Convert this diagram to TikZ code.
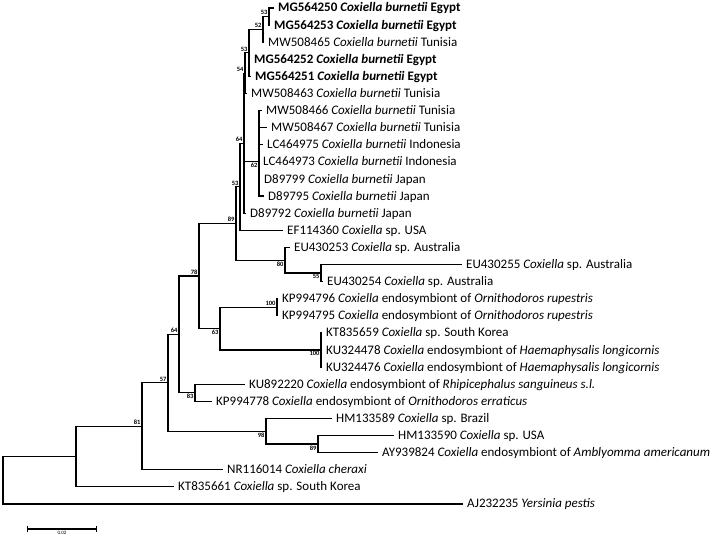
\documentclass[tikz,border=0pt]{standalone}
\usepackage{fontspec}
\setmainfont{Carlito}
\usetikzlibrary{arrows.meta}
\begin{document}
\begin{tikzpicture}[x=1pt,y=-1pt,
 branch/.style={line width=1.2pt},
 leaf/.style={anchor=west,inner xsep=4pt,inner ysep=0pt,text height=8pt,text depth=0pt,font=\fontsize{13}{15}\selectfont},
 bup/.style={above left,inner sep=1pt,font=\fontsize{6.5}{7}\selectfont\bfseries},
 bdn/.style={below left,inner sep=1pt,font=\fontsize{6.5}{7}\selectfont\bfseries}
]
 \useasboundingbox (0,0) rectangle (725,540);
 \coordinate (root) at (3,480.2);
 \coordinate (nX) at (76,456.5);
 \coordinate (n81) at (142,426.25);
 \coordinate (n57) at (168,382.8);
 \coordinate (n64) at (179,334.4);
 \coordinate (n98) at (266,431.2);
 \coordinate (n89b) at (318,444.05);
 \coordinate (n83) at (195,392.75);
 \coordinate (n78) at (199,276);
 \coordinate (n63) at (220,328.6);
 \coordinate (nK) at (277,307.25);
 \coordinate (nT) at (321,350);
 \coordinate (n89) at (236,223.5);
 \coordinate (n80) at (285,260.2);
 \coordinate (n55) at (321,273.05);
 \coordinate (nG) at (240,186.75);
 \coordinate (nE) at (244,143.2);
 \coordinate (nF) at (259,161.9);
 \coordinate (nD) at (245,73.2);
 \coordinate (nC) at (249,52.9);
 \coordinate (nB) at (263,29.4);
 \coordinate (nA) at (269,16.55);
 \node[leaf] (t1) at (274,8) {\textbf{MG564250 \textit{Coxiella burnetii} Egypt}};
 \node[leaf] (t2) at (270,25.1) {\textbf{MG564253 \textit{Coxiella burnetii} Egypt}};
 \node[leaf] (t3) at (264,42.2) {MW508465 \textit{Coxiella burnetii} Tunisia};
 \node[leaf] (t4) at (250,59.3) {\textbf{MG564252 \textit{Coxiella burnetii} Egypt}};
 \node[leaf] (t5) at (251,76.4) {\textbf{MG564251 \textit{Coxiella burnetii} Egypt}};
 \node[leaf] (t6) at (247,93.5) {MW508463 \textit{Coxiella burnetii} Tunisia};
 \node[leaf] (t7) at (262,110.6) {MW508466 \textit{Coxiella burnetii} Tunisia};
 \node[leaf] (t8) at (267,127.7) {MW508467 \textit{Coxiella burnetii} Tunisia};
 \node[leaf] (t9) at (263,144.8) {LC464975 \textit{Coxiella burnetii} Indonesia};
 \node[leaf] (t10) at (259,161.9) {LC464973 \textit{Coxiella burnetii} Indonesia};
 \node[leaf] (t11) at (260,179) {D89799 \textit{Coxiella burnetii} Japan};
 \node[leaf] (t12) at (264,196.1) {D89795 \textit{Coxiella burnetii} Japan};
 \node[leaf] (t13) at (246,213.2) {D89792 \textit{Coxiella burnetii} Japan};
 \node[leaf] (t14) at (283,230.3) {EF114360 \textit{Coxiella} sp. USA};
 \node[leaf] (t15) at (290,247.4) {EU430253 \textit{Coxiella} sp. Australia};
 \node[leaf] (t16) at (462,264.5) {EU430255 \textit{Coxiella} sp. Australia};
 \node[leaf] (t17) at (323,281.6) {EU430254 \textit{Coxiella} sp. Australia};
 \node[leaf] (t18) at (278,298.7) {KP994796 \textit{Coxiella} endosymbiont of \textit{Ornithodoros rupestris}};
 \node[leaf] (t19) at (278,315.8) {KP994795 \textit{Coxiella} endosymbiont of \textit{Ornithodoros rupestris}};
 \node[leaf] (t20) at (322,332.9) {KT835659 \textit{Coxiella} sp. South Korea};
 \node[leaf] (t21) at (322,350) {KU324478 \textit{Coxiella} endosymbiont of \textit{Haemaphysalis longicornis}};
 \node[leaf] (t22) at (322,367.1) {KU324476 \textit{Coxiella} endosymbiont of \textit{Haemaphysalis longicornis}};
 \node[leaf] (t23) at (245,384.2) {KU892220 \textit{Coxiella} endosymbiont of \textit{Rhipicephalus sanguineus s.l.}};
 \node[leaf] (t24) at (212,401.3) {KP994778 \textit{Coxiella} endosymbiont of \textit{Ornithodoros erraticus}};
 \node[leaf] (t25) at (332,418.4) {HM133589 \textit{Coxiella} sp. Brazil};
 \node[leaf] (t26) at (394,435.5) {HM133590 \textit{Coxiella} sp. USA};
 \node[leaf] (t27) at (378,452.6) {AY939824 \textit{Coxiella} endosymbiont of \textit{Amblyomma americanum}};
 \node[leaf] (t28) at (223,469.7) {NR116014 \textit{Coxiella cheraxi}};
 \node[leaf] (t29) at (174,486.8) {KT835661 \textit{Coxiella} sp. South Korea};
 \node[leaf] (t30) at (463,503.9) {AJ232235 \textit{Yersinia pestis}};
 % outgroup and deep nodes
 \draw[branch] (root) |- (nX);
 \draw[branch] (root) |- (t30.west);
 \draw[branch] (nX) |- (n81) node[bup] {81};
 \draw[branch] (nX) |- (t29.west);
 \draw[branch] (n81) |- (n57) node[bup] {57};
 \draw[branch] (n81) |- (t28.west);
 \draw[branch] (n57) |- (n64) node[bup] {64};
 \draw[branch] (n57) |- (n98) node[bdn] {98};
 \draw[branch] (n98) |- (t25.west);
 \draw[branch] (n98) |- (n89b) node[bdn] {89};
 \draw[branch] (n89b) |- (t26.west);
 \draw[branch] (n89b) |- (t27.west);
 \draw[branch] (n64) |- (n78) node[bup] {78};
 \draw[branch] (n64) |- (n83) node[bdn] {83};
 \draw[branch] (n83) |- (t23.west);
 \draw[branch] (n83) |- (t24.west);
 \draw[branch] (n78) |- (n89) node[bup] {89};
 \draw[branch] (n78) |- (n63) node[bdn] {63};
 \draw[branch] (n63) |- (nK) node[bup] {100};
 \draw[branch] (n63) |- (nT) node[bdn] {100};
 \draw[branch] (nK) |- (t18.west);
 \draw[branch] (nK) |- (t19.west);
 \draw[branch] (nT) |- (t20.west);
 \draw[branch] (nT) |- (t21.west);
 \draw[branch] (nT) |- (t22.west);
 \draw[branch] (n89) |- (nG) node[bup] {53};
 \draw[branch] (n89) |- (n80) node[bdn] {80};
 \draw[branch] (n80) |- (t15.west);
 \draw[branch] (n80) |- (n55) node[bdn] {55};
 \draw[branch] (n55) |- (t16.west);
 \draw[branch] (n55) |- (t17.west);
 % burnetii clade
 \draw[branch] (nG) |- (nE) node[bup] {64};
 \draw[branch] (nG) |- (t14.west);
 \draw[branch] (nE) |- (nD) node[bup] {54};
 \draw[branch] (nE) |- (nF) node[bdn] {62};
 \draw[branch] (nE) |- (t13.west);
 \draw[branch] (nF) |- (t7.west);
 \draw[branch] (nF) |- (t8.west);
 \draw[branch] (nF) |- (t9.west);
 \draw[branch] (nF) |- (t11.west);
 \draw[branch] (nF) |- (t12.west);
 \draw[branch] (nD) |- (nC) node[bup] {53};
 \draw[branch] (nD) |- (t6.west);
 \draw[branch] (nC) |- (nB) node[bup] {52};
 \draw[branch] (nC) |- (t4.west);
 \draw[branch] (nC) |- (t5.west);
 \draw[branch] (nB) |- (nA) node[bup] {53};
 \draw[branch] (nB) |- (t3.west);
 \draw[branch] (nA) |- (t1.west);
 \draw[branch] (nA) |- (t2.west);
 % scale bar
 \coordinate (s1) at (27,529);
 \coordinate (s2) at (97,529);
 \draw[branch,{Bar[width=6pt]}-{Bar[width=6pt]}] (s1) -- (s2) node[midway,below=1.5pt,inner sep=0pt,font=\fontsize{5}{5}\selectfont] (sl) {0.02};
\end{tikzpicture}
\end{document}
